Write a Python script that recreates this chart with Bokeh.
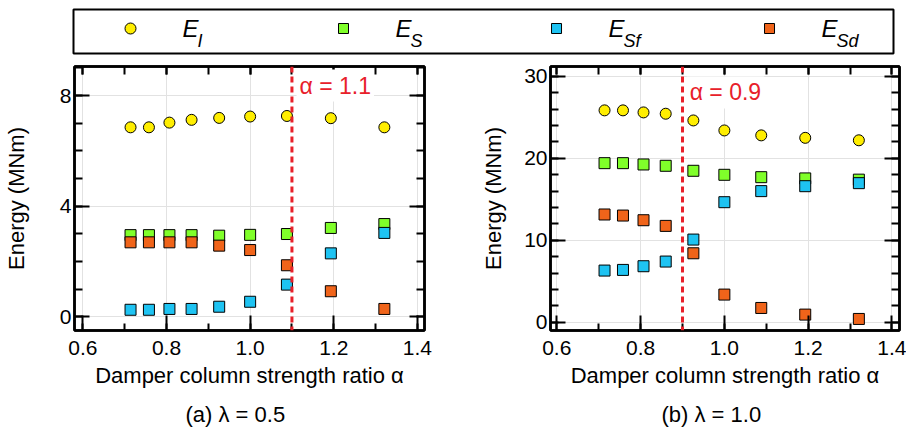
from bokeh.plotting import figure
from bokeh.models import (Range1d, FixedTicker, LinearAxis, Span, Label, Title,
                          CustomJSTickFormatter, NumeralTickFormatter, ColumnDataSource)
from bokeh.layouts import column, row
from bokeh.embed import file_html
from bokeh.resources import INLINE
from bokeh.core.properties import value

FONT = "Liberation Sans"

# ---------------- data ----------------
alpha = [0.714, 0.758, 0.807, 0.860, 0.926, 1.000, 1.088, 1.193, 1.321]

# (a) lambda = 0.5
EI_a = [6.85, 6.85, 7.02, 7.12, 7.19, 7.24, 7.26, 7.18, 6.85]
ES_a = [2.95, 2.95, 2.95, 2.95, 2.93, 2.96, 2.99, 3.21, 3.35]
ESf_a = [0.25, 0.25, 0.28, 0.28, 0.36, 0.54, 1.16, 2.29, 3.03]
ESd_a = [2.69, 2.69, 2.69, 2.69, 2.57, 2.41, 1.86, 0.92, 0.28]

# (b) lambda = 1.0
EI_b = [25.85, 25.85, 25.60, 25.44, 24.62, 23.40, 22.80, 22.50, 22.20]
ES_b = [19.41, 19.41, 19.25, 19.09, 18.48, 17.99, 17.70, 17.55, 17.40]
ESf_b = [6.31, 6.39, 6.84, 7.41, 10.09, 14.65, 16.00, 16.60, 16.97]
ESd_b = [13.15, 13.02, 12.45, 11.76, 8.42, 3.38, 1.75, 0.94, 0.41]

threshold_a = 1.1
threshold_b = 0.9

series_names = ["E_I", "E_S", "E_Sf", "E_Sd"]
legend_main = ["E", "E", "E", "E"]
legend_sub = ["I", "S", "Sf", "Sd"]
markers = ["circle", "square", "square", "square"]
colors = ["#FFEE00", "#80FF2A", "#1EC3F2", "#F0641A"]

x_ticks = [0.6, 0.8, 1.0, 1.2, 1.4]
x_minor = [0.6, 0.7, 0.8, 0.9, 1.0, 1.1, 1.2, 1.3, 1.4]
y_ticks_a = [0, 4, 8]
y_minor_a = [0, 1, 2, 3, 4, 5, 6, 7, 8, 9]
y_ticks_b = [0, 10, 20, 30]
y_minor_b = list(range(0, 31, 2))

x_title = "Damper column strength ratio α"
y_title = "Energy (MNm)"
caption_a = "(a) λ = 0.5"
caption_b = "(b) λ = 1.0"

RED = "#E8202A"


def style_axis(ax, ticks, minor, major_in, minor_in, fmt=None, labels=True):
    ax.ticker = FixedTicker(ticks=ticks, minor_ticks=minor)
    ax.major_tick_in = major_in
    ax.major_tick_out = 0
    ax.minor_tick_in = minor_in
    ax.minor_tick_out = 0
    ax.major_tick_line_width = 2
    ax.minor_tick_line_width = 2
    ax.major_tick_line_color = "black"
    ax.minor_tick_line_color = "black"
    ax.axis_line_width = 2.5
    ax.axis_line_color = "black"
    if labels:
        ax.formatter = fmt
        ax.major_label_text_font = FONT
        ax.major_label_text_font_size = "21px"
        ax.major_label_text_color = "black"
    else:
        ax.formatter = CustomJSTickFormatter(code="return ''")
        ax.major_label_text_font_size = "1px"
        ax.major_label_standoff = 0


def panel(series, xr, yr, yt, ym, fw, mbl, mbr, thr, lab_dx, lab_y, caption, cap_off,
          ylab_standoff):
    p = figure(frame_width=fw, frame_height=264, min_border_left=mbl,
               min_border_right=mbr, min_border_top=8, min_border_bottom=99,
               x_range=Range1d(*xr), y_range=Range1d(*yr),
               output_backend="svg", toolbar_location=None)
    p.background_fill_color = "white"
    p.border_fill_color = "white"
    p.outline_line_color = "black"
    p.outline_line_width = 2.5

    style_axis(p.xaxis[0], x_ticks, x_minor, 15, 7, NumeralTickFormatter(format="0.0"))
    p.xaxis[0].major_label_standoff = 10
    p.xaxis[0].axis_label = x_title
    p.xaxis[0].axis_label_text_font = FONT
    p.xaxis[0].axis_label_text_font_size = "22px"
    p.xaxis[0].axis_label_text_font_style = "normal"
    p.xaxis[0].axis_label_text_color = "black"
    p.xaxis[0].axis_label_standoff = 5

    style_axis(p.yaxis[0], yt, ym, 15, 8, NumeralTickFormatter(format="0"))
    p.yaxis[0].major_label_standoff = 3
    p.yaxis[0].axis_label = y_title
    p.yaxis[0].axis_label_text_font = FONT
    p.yaxis[0].axis_label_text_font_size = "22px"
    p.yaxis[0].axis_label_text_font_style = "normal"
    p.yaxis[0].axis_label_text_color = "black"
    p.yaxis[0].axis_label_standoff = ylab_standoff

    top = LinearAxis()
    style_axis(top, x_ticks, x_minor, 8, 8, labels=False)
    p.add_layout(top, "above")
    right = LinearAxis()
    style_axis(right, yt, ym, 15, 8, labels=False)
    p.add_layout(right, "right")

    p.xgrid.ticker = FixedTicker(ticks=x_ticks)
    p.ygrid.ticker = FixedTicker(ticks=yt)
    for g in (p.xgrid[0], p.ygrid[0]):
        g.grid_line_color = "#E2E2E2"
        g.grid_line_width = 1

    for vals, mk, col in zip(series, markers, colors):
        p.scatter(alpha, vals, marker=mk, size=11, fill_color=col,
                  line_color="black", line_width=1)

    p.add_layout(Span(location=thr, dimension="height", line_color=RED,
                      line_width=3, line_dash="6 4"))
    p.add_layout(Label(x=thr + lab_dx, y=lab_y, text=f"α = {thr}",
                       text_font=FONT, text_font_size="23px", text_color=RED,
                       text_baseline="alphabetic", background_fill_color="white",
                       padding=3))

    p.add_layout(Title(text=caption, align="left", offset=cap_off,
                       text_font=FONT, text_font_size="22px",
                       text_font_style="normal", text_color="black", standoff=18),
                 "below")
    return p


p1 = panel([EI_a, ES_a, ESf_a, ESd_a], (0.58, 1.417), (-0.5, 9.05),
           y_ticks_a, y_minor_a, 350, 74, 54, threshold_a, 0.011, 8.36,
           caption_a, 111, 28)
p2 = panel([EI_b, ES_b, ESf_b, ESd_b], (0.585, 1.418), (-1.0, 31.2),
           y_ticks_b, y_minor_b, 349, 71, 8, threshold_b, 0.010, 28.03,
           caption_b, 111, 15)

# ---------------- legend strip ----------------
idx = list(range(len(series_names)))
leg = figure(frame_width=820, frame_height=44, min_border_left=73,
             min_border_right=13, min_border_top=9, min_border_bottom=5,
             x_range=Range1d(-0.2676, 3.582), y_range=Range1d(-0.068, 0.932),
             x_axis_type=None, y_axis_type=None,
             output_backend="svg", toolbar_location=None)
leg.outline_line_color = "black"
leg.outline_line_width = 2
leg.background_fill_color = "white"
leg.border_fill_color = "white"
src = ColumnDataSource(dict(
    x=idx, y=[0.5] * len(idx), marker=markers, color=colors,
    size=[11 if m == "circle" else 10 for m in markers],
    main=legend_main, sub=legend_sub))
leg.scatter("x", "y", source=src, marker="marker", size="size", fill_color="color",
            line_color="black", line_width=1)
leg.text("x", "y", text="main", source=src, x_offset=52, y_offset=0,
         text_font=value(FONT), text_font_style="italic", text_font_size="24px",
         text_baseline="alphabetic", text_color="black")
leg.text("x", "y", text="sub", source=src, x_offset=67, y_offset=12,
         text_font=value(FONT), text_font_style="italic", text_font_size="18px",
         text_baseline="alphabetic", text_color="black")

layout = column(leg, row(p1, p2))
open("out.html", "w").write(file_html(layout, INLINE))
